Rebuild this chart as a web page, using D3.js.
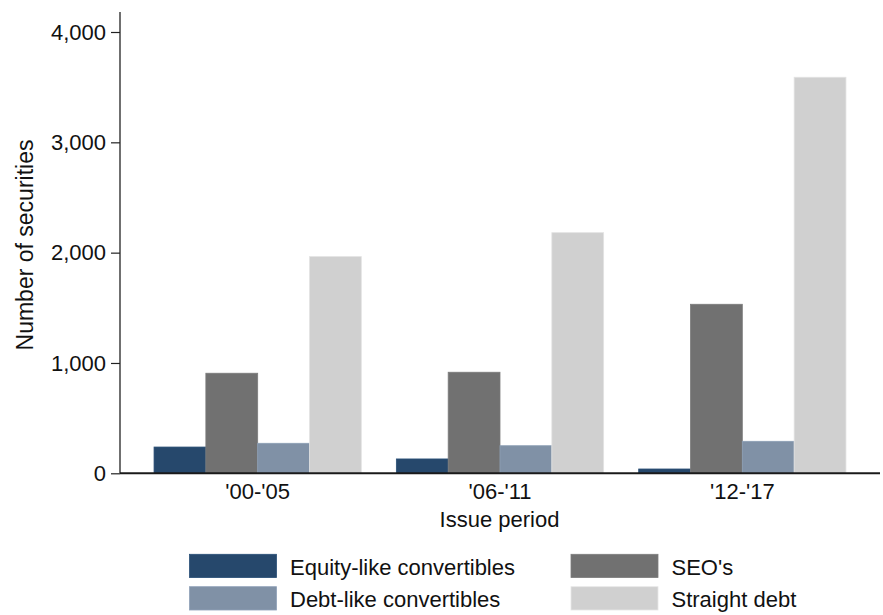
<!DOCTYPE html>
<html>
<head>
<meta charset="utf-8">
<script src="https://cdn.jsdelivr.net/npm/d3@7"></script>
<style>
  html, body { margin: 0; padding: 0; background: #fff; }
  svg text { font-family: "Liberation Sans", Arial, Helvetica, sans-serif; fill: #111; }
</style>
</head>
<body>
<svg id="chart" width="883" height="615"></svg>
<script>
// Issue periods on the x axis
const periods = ["'00-'05", "'06-'11", "'12-'17"];
// Security types, in bar order within each period
const seriesNames = ["Equity-like convertibles", "SEO's", "Debt-like convertibles", "Straight debt"];
const seriesColors = ["#26486c", "#717171", "#8091a6", "#d0d0d0"];
// Number of securities per period, one array per type
const equityLike = [238, 130, 39];
const seos = [907, 916, 1532];
const debtLike = [272, 250, 290];
const straightDebt = [1964, 2181, 3590];
const yTicks = [0, 1000, 2000, 3000, 4000];

const seriesValues = [equityLike, seos, debtLike, straightDebt];
const rows = periods.map((p, i) => ({
  period: p,
  values: seriesNames.map((s, j) => ({ key: s, color: seriesColors[j], value: seriesValues[j][i] }))
}));

const svg = d3.select("#chart");
const left = 120, right = 880, zeroY = 473.3, topTickY = 32;
const fontStack = "Liberation Sans, Arial, sans-serif";

const x0 = d3.scaleBand().domain(periods).range([left, right])
  .paddingInner(0.1446).paddingOuter(0.1405);
const x1 = d3.scaleBand().domain(seriesNames).range([0, x0.bandwidth()]).padding(0);
const y = d3.scaleLinear().domain([0, 4000]).range([zeroY, topTickY]);

// bars
const groups = svg.append("g").selectAll("g").data(rows).join("g")
  .attr("transform", d => `translate(${x0(d.period)},0)`);
groups.selectAll("rect").data(d => d.values).join("rect")
  .attr("x", d => x1(d.key))
  .attr("width", x1.bandwidth())
  .attr("y", d => y(d.value))
  .attr("height", d => y(0) - y(d.value))
  .attr("fill", d => d.color)
  .attr("stroke", d => d3.color(d.color).brighter(0.25))
  .attr("stroke-width", 0.8);

// y axis
const yAxis = svg.append("g").attr("transform", `translate(${left},0)`)
  .call(d3.axisLeft(y).tickValues(yTicks).tickFormat(d3.format(",")).tickSize(9).tickPadding(5));
yAxis.select(".domain").remove();
yAxis.selectAll(".tick line").attr("stroke", "#222").attr("stroke-width", 1.2);
yAxis.selectAll(".tick text").attr("font-size", 22).attr("fill", "#111")
  .attr("font-family", fontStack);
svg.append("line").attr("x1", left).attr("x2", left)
  .attr("y1", zeroY).attr("y2", 12)
  .attr("stroke", "#222").attr("stroke-width", 1.3);

// x axis
const xAxis = svg.append("g").attr("transform", `translate(0,${zeroY})`)
  .call(d3.axisBottom(x0).tickSize(0).tickPadding(10));
xAxis.select(".domain").remove();
xAxis.selectAll(".tick text").attr("font-size", 22).attr("fill", "#111")
  .attr("font-family", fontStack);
svg.append("line").attr("x1", left).attr("x2", right)
  .attr("y1", zeroY).attr("y2", zeroY)
  .attr("stroke", "#1a1a1a").attr("stroke-width", 2);

// axis titles
svg.append("text")
  .attr("x", 499.5)
  .attr("y", 527)
  .attr("text-anchor", "middle")
  .attr("font-size", 22)
  .text("Issue period");
svg.append("text")
  .attr("transform", "translate(33,245) rotate(-90)")
  .attr("text-anchor", "middle")
  .attr("font-size", 23)
  .text("Number of securities");

// legend: two columns, two rows
const legendPos = [
  { x: 189.5, y: 554.3 }, { x: 571, y: 554.3 },
  { x: 189.5, y: 586.7 }, { x: 571, y: 586.7 }
];
const legendOrder = [0, 1, 2, 3];
const legend = svg.append("g").selectAll("g").data(legendOrder).join("g")
  .attr("transform", (d, i) => `translate(${legendPos[i].x},${legendPos[i].y})`);
legend.append("rect")
  .attr("width", 87).attr("height", 23.3)
  .attr("fill", d => seriesColors[d])
  .attr("stroke", d => d3.color(seriesColors[d]).brighter(0.3))
  .attr("stroke-width", 0.8);
legend.append("text")
  .attr("x", 100.5).attr("y", 20.5)
  .attr("font-size", 22)
  .text(d => seriesNames[d]);
</script>
</body>
</html>
